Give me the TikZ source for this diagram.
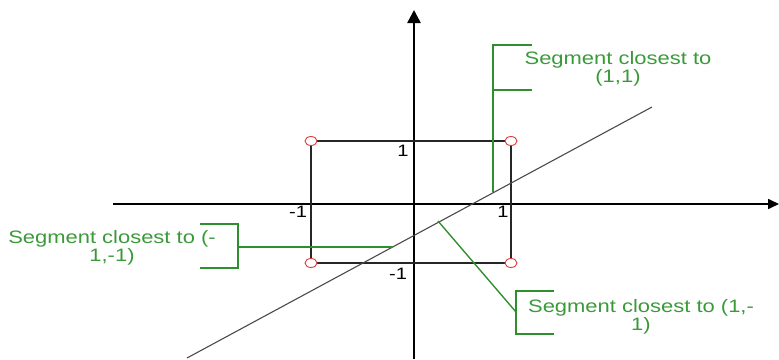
\documentclass[tikz,border=0pt]{standalone}
\usepackage{fontspec}
\setmainfont[FakeStretch=1.22]{Liberation Sans}
\usetikzlibrary{arrows.meta}
\definecolor{calloutGreen}{HTML}{2F8F2F}
\definecolor{calloutText}{HTML}{3A9A3A}
\definecolor{cornerRed}{HTML}{E03A3A}
\definecolor{lineGray}{HTML}{4A4A4A}

\begin{document}
\begin{tikzpicture}[
    x=1pt, y=-1pt,
    axis/.style={draw=black, line width=1.7pt},
    yaxis/.style={draw=black, line width=2.5pt},
    square/.style={draw=black!85, line width=1.5pt},
    corner/.style={draw=cornerRed, fill=white, line width=0.9pt},
    diagonal/.style={draw=lineGray, line width=1.1pt},
    leader/.style={draw=calloutGreen, line width=1.4pt},
    tick/.style={inner sep=0pt, font=\fontsize{16.5}{18}\selectfont},
    callout/.style={inner sep=0pt, text=calloutText, align=center, font=\fontsize{18}{16.5}\selectfont}
]
    \useasboundingbox (0,0) rectangle (779,359);

    \coordinate (XL) at (113,204);
    \coordinate (XR) at (779,204);
    \coordinate (YB) at (414,359);
    \coordinate (YT) at (414,10);
    \coordinate (P11) at (511,141);
    \coordinate (P1m) at (511,263);
    \coordinate (Pm1) at (311,141);
    \coordinate (Pmm) at (311,263);
    \coordinate (D0) at (187,358);
    \coordinate (D1) at (652,107);

    \draw[axis, -{Triangle[length=11pt, width=10pt]}] (XL) -- (XR);
    \draw[yaxis, -{Triangle[length=13pt, width=13pt]}] (YB) -- (YT);
    \draw[square] (Pm1) rectangle (P1m);
    \draw[diagonal] (D0) -- (D1);
    \foreach \c in {P11, P1m, Pm1, Pmm}
        \draw[corner] (\c) ellipse [x radius=6, y radius=4.5];

    \node[tick] (T1y) at (403,151) {1};
    \node[tick] (Tm1y) at (398,274) {-1};
    \node[tick] (Tm1x) at (298,212) {-1};
    \node[tick] (T1x) at (503,212) {1};

    \node[callout] (A11) at (618,69) {Segment closest to\\(1,1)};
    \node[callout] (Amm) at (112,248) {Segment closest to (-\\1,-1)};
    \node[callout] (A1m) at (641,317) {Segment closest to (1,-\\1)};

    \coordinate (B11t) at (493,45);
    \coordinate (B11m) at (493,90);
    \coordinate (B11e) at (493,192);
    \coordinate (B11tt) at (532,45);
    \coordinate (B11mm) at (532,90);
    \draw[leader] (B11tt) -- (B11t) -- (B11e);
    \draw[leader] (B11m) -- (B11mm);

    \coordinate (Bmmt) at (238,224);
    \coordinate (Bmmb) at (238,268);
    \coordinate (Bmmm) at (238,247);
    \coordinate (Bmmtt) at (200,224);
    \coordinate (Bmmbb) at (200,268);
    \coordinate (Bmme) at (393,247);
    \draw[leader] (Bmmtt) -- (Bmmt) -- (Bmmb) -- (Bmmbb);
    \draw[leader] (Bmmm) -- (Bmme);

    \coordinate (B1mt) at (516,291);
    \coordinate (B1mb) at (516,334);
    \coordinate (B1mm) at (516,312);
    \coordinate (B1mtt) at (554,291);
    \coordinate (B1mbb) at (554,334);
    \coordinate (B1me) at (438,221);
    \draw[leader] (B1mtt) -- (B1mt) -- (B1mb) -- (B1mbb);
    \draw[leader] (B1mm) -- (B1me);
\end{tikzpicture}
\end{document}
